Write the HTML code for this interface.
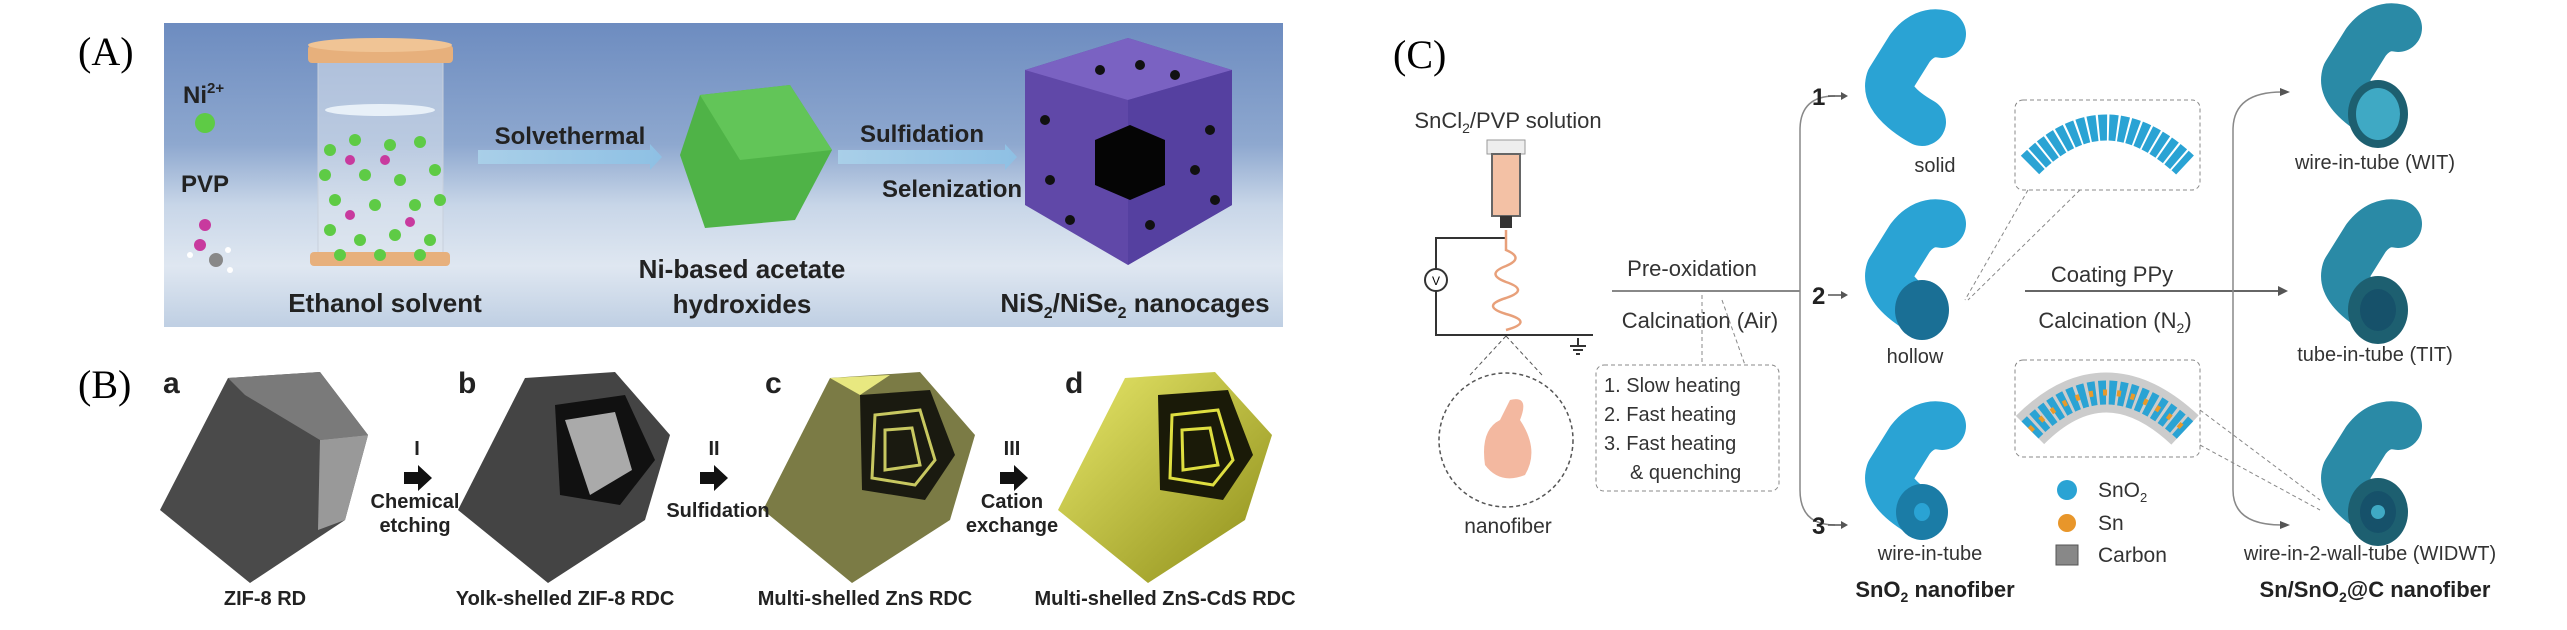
<!DOCTYPE html>
<html><head><meta charset="utf-8"><style>
html,body{margin:0;padding:0;background:#fff;}
svg{display:block;}
.lab{font-family:"Liberation Serif",serif;font-size:40px;}
.a{font-family:"Liberation Sans",sans-serif;font-weight:bold;fill:#222;}
.c{font-family:"Liberation Sans",sans-serif;fill:#333;}
</style></head><body>
<svg width="2567" height="630" viewBox="0 0 2567 630" xmlns="http://www.w3.org/2000/svg">
<defs>
<linearGradient id="sky" x1="0" y1="0" x2="0" y2="1">
<stop offset="0" stop-color="#6d8cc0"/><stop offset="0.4" stop-color="#8ea8cf"/><stop offset="0.6" stop-color="#c8d6e8"/><stop offset="0.8" stop-color="#dfe7f1"/><stop offset="1" stop-color="#bfcfe3"/></linearGradient>
<linearGradient id="arr" x1="0" y1="0" x2="1" y2="0"><stop offset="0" stop-color="#a9cfe8"/><stop offset="1" stop-color="#8ec0e4"/></linearGradient>
<linearGradient id="ylw" x1="0" y1="0" x2="1" y2="1"><stop offset="0" stop-color="#e8e86a"/><stop offset="1" stop-color="#8c8c18"/></linearGradient>
<g id="fib"><path d="M80,16 Q62,12 48,30 L28,62 Q22,82 60,104" fill="none" stroke="#2aa3d4" stroke-width="48" stroke-linecap="round" stroke-linejoin="round"/></g>
<g id="fibR"><path d="M80,16 Q62,12 48,30 L28,62 Q22,82 60,104" fill="none" stroke="#2a8aa6" stroke-width="48" stroke-linecap="round" stroke-linejoin="round"/></g>
</defs>

<!-- Panel A -->
<text class="lab" x="78" y="65">(A)</text>
<rect x="164" y="23" width="1119" height="304" fill="url(#sky)"/>
<text class="a" x="183" y="103" font-size="24">Ni<tspan font-size="15" dy="-10">2+</tspan></text>
<circle cx="205" cy="123" r="10" fill="#5ecb45"/>
<text class="a" x="181" y="192" font-size="24">PVP</text>
<circle cx="205" cy="225" r="6" fill="#c83a9e"/><circle cx="200" cy="245" r="6" fill="#c83a9e"/><circle cx="216" cy="260" r="7" fill="#888"/>
<circle cx="228" cy="250" r="3" fill="#fff"/><circle cx="230" cy="270" r="3" fill="#fff"/><circle cx="190" cy="255" r="3" fill="#fff"/>
<rect x="318" y="60" width="125" height="200" fill="#dfe6ef" fill-opacity="0.55" stroke="#c8d0dc"/>
<ellipse cx="380" cy="110" rx="55" ry="6" fill="#e8f0f8"/>
<rect x="308" y="45" width="145" height="18" rx="4" fill="#e7b07c"/>
<ellipse cx="380" cy="45" rx="72" ry="7" fill="#f0c495"/>
<rect x="310" y="252" width="140" height="14" rx="4" fill="#e7b07c"/>
<g fill="#5ecb45">
<circle cx="330" cy="150" r="6"/><circle cx="355" cy="140" r="6"/><circle cx="390" cy="145" r="6"/><circle cx="420" cy="142" r="6"/>
<circle cx="325" cy="175" r="6"/><circle cx="365" cy="175" r="6"/><circle cx="400" cy="180" r="6"/><circle cx="435" cy="170" r="6"/>
<circle cx="335" cy="200" r="6"/><circle cx="375" cy="205" r="6"/><circle cx="415" cy="205" r="6"/><circle cx="440" cy="200" r="6"/>
<circle cx="330" cy="230" r="6"/><circle cx="360" cy="240" r="6"/><circle cx="395" cy="235" r="6"/><circle cx="430" cy="240" r="6"/>
<circle cx="340" cy="255" r="6"/><circle cx="380" cy="255" r="6"/><circle cx="420" cy="255" r="6"/></g>
<g fill="#c83a9e"><circle cx="350" cy="160" r="5"/><circle cx="385" cy="160" r="5"/><circle cx="350" cy="215" r="5"/><circle cx="410" cy="222" r="5"/></g>
<text class="a" x="385" y="312" font-size="26" text-anchor="middle">Ethanol solvent</text>
<polygon points="478,150 650,150 650,144 662,157 650,170 650,164 478,164" fill="url(#arr)"/>
<text class="a" x="570" y="144" font-size="24" text-anchor="middle">Solvethermal</text>
<polygon points="700,95 790,85 832,150 795,220 705,228 680,155" fill="#4fb347"/>
<polygon points="700,95 790,85 832,150 740,160" fill="#62c558"/>
<text class="a" x="742" y="278" font-size="26" text-anchor="middle">Ni-based acetate</text>
<text class="a" x="742" y="313" font-size="26" text-anchor="middle">hydroxides</text>
<polygon points="838,150 1005,150 1005,144 1017,157 1005,170 1005,164 838,164" fill="url(#arr)"/>
<text class="a" x="922" y="142" font-size="24" text-anchor="middle">Sulfidation</text>
<text class="a" x="952" y="197" font-size="24" text-anchor="middle">Selenization</text>
<polygon points="1128,38 1232,70 1232,205 1128,265 1025,205 1025,70" fill="#6048a8"/>
<polygon points="1128,38 1232,70 1128,100 1025,70" fill="#7a62c2"/>
<polygon points="1128,100 1232,70 1232,205 1128,265" fill="#5540a0"/>
<polygon points="1130,125 1165,140 1165,185 1130,200 1095,185 1095,140" fill="#050505"/>
<g fill="#111"><circle cx="1100" cy="70" r="5"/><circle cx="1140" cy="65" r="5"/><circle cx="1175" cy="75" r="5"/><circle cx="1045" cy="120" r="5"/><circle cx="1210" cy="130" r="5"/><circle cx="1195" cy="170" r="5"/><circle cx="1050" cy="180" r="5"/><circle cx="1215" cy="200" r="5"/><circle cx="1150" cy="225" r="5"/><circle cx="1070" cy="220" r="5"/></g>
<text class="a" x="1135" y="312" font-size="26" text-anchor="middle">NiS<tspan font-size="16" dy="6">2</tspan><tspan dy="-6">/NiSe</tspan><tspan font-size="16" dy="6">2</tspan><tspan dy="-6"> nanocages</tspan></text>

<!-- Panel B -->
<text class="lab" x="78" y="398">(B)</text>
<g class="a" font-size="30"><text x="163" y="393">a</text><text x="458" y="393">b</text><text x="765" y="393">c</text><text x="1065" y="393">d</text></g>
<polygon points="228,378 320,372 368,435 345,520 250,583 160,510" fill="#4a4a4a"/>
<polygon points="228,378 320,372 368,435 320,440 245,395" fill="#7a7a7a"/>
<polygon points="320,440 368,435 345,520 318,530" fill="#999"/>
<polygon points="525,378 615,372 670,435 645,520 548,583 458,510" fill="#444"/>
<polygon points="555,405 625,395 655,460 620,505 560,495" fill="#111"/>
<polygon points="565,420 615,412 632,470 590,495" fill="#aaa"/>
<polygon points="830,378 920,372 975,435 950,520 852,583 763,510" fill="#7b7b45"/>
<polygon points="830,378 890,375 860,395" fill="#e8e880"/>
<polygon points="860,395 930,390 955,455 925,500 862,490" fill="#1a1a10"/>
<polygon points="875,415 920,410 935,460 915,485 872,478" fill="none" stroke="#c8c860" stroke-width="3"/>
<polygon points="885,430 912,428 920,465 885,470" fill="none" stroke="#c8c860" stroke-width="3"/>
<polygon points="1125,378 1215,372 1272,435 1245,520 1148,583 1058,510" fill="url(#ylw)"/>
<polygon points="1158,395 1228,390 1253,455 1223,500 1160,490" fill="#1a1a08"/>
<polygon points="1172,415 1218,410 1233,460 1213,485 1170,478" fill="none" stroke="#dede40" stroke-width="3"/>
<polygon points="1182,430 1210,428 1218,465 1183,470" fill="none" stroke="#dede40" stroke-width="3"/>
<g fill="#111"><polygon points="404,472 418,472 418,465 432,478 418,491 418,484 404,484"/>
<polygon points="700,472 714,472 714,465 728,478 714,491 714,484 700,484"/>
<polygon points="1000,472 1014,472 1014,465 1028,478 1014,491 1014,484 1000,484"/></g>
<g class="a" font-size="20" text-anchor="middle">
<text x="417" y="455">I</text><text x="415" y="508">Chemical</text><text x="415" y="532">etching</text>
<text x="714" y="455">II</text><text x="718" y="517">Sulfidation</text>
<text x="1012" y="455">III</text><text x="1012" y="508">Cation</text><text x="1012" y="532">exchange</text>
<text x="265" y="605">ZIF-8 RD</text><text x="565" y="605">Yolk-shelled ZIF-8 RDC</text>
<text x="865" y="605">Multi-shelled ZnS RDC</text><text x="1165" y="605">Multi-shelled ZnS-CdS RDC</text></g>

<!-- Panel C -->
<text class="lab" x="1393" y="68">(C)</text>
<text class="c" x="1508" y="128" font-size="22" text-anchor="middle">SnCl<tspan font-size="14" dy="5">2</tspan><tspan dy="-5">/PVP solution</tspan></text>
<rect x="1487" y="140" width="38" height="14" fill="#eee" stroke="#999"/>
<rect x="1492" y="154" width="28" height="62" fill="#f3c1a5" stroke="#666" stroke-width="2"/>
<rect x="1500" y="216" width="12" height="12" fill="#333"/>
<g fill="none" stroke="#333" stroke-width="2">
<polyline points="1506,238 1436,238 1436,335 1593,335"/>
<line x1="1578" y1="338" x2="1578" y2="346"/><line x1="1570" y1="346" x2="1586" y2="346"/><line x1="1573" y1="350" x2="1583" y2="350"/><line x1="1576" y1="354" x2="1580" y2="354"/>
</g>
<circle cx="1436" cy="280" r="11" fill="#fff" stroke="#333" stroke-width="2"/>
<text x="1436" y="285" font-size="12" text-anchor="middle" font-family="Liberation Sans">V</text>
<path d="M1506,230 L1506,250 Q1525,258 1506,266 Q1485,274 1506,282 Q1530,290 1506,298 Q1480,306 1506,314 Q1535,322 1506,330" fill="none" stroke="#e8a07a" stroke-width="2.5"/>
<circle cx="1506" cy="440" r="67" fill="none" stroke="#555" stroke-width="1.5" stroke-dasharray="4,3"/>
<line x1="1470" y1="375" x2="1506" y2="336" stroke="#555" stroke-dasharray="4,3"/><line x1="1542" y1="375" x2="1506" y2="336" stroke="#555" stroke-dasharray="4,3"/>
<path d="M1510,400 Q1530,395 1520,420 Q1540,450 1525,475 Q1500,485 1485,465 Q1480,430 1500,420 Z" fill="#f3b8a0"/>
<text class="c" x="1508" y="533" font-size="21" text-anchor="middle">nanofiber</text>
<line x1="1612" y1="291" x2="1800" y2="291" stroke="#888" stroke-width="2"/>
<text class="c" x="1692" y="276" font-size="22" text-anchor="middle">Pre-oxidation</text>
<text class="c" x="1700" y="328" font-size="22" text-anchor="middle">Calcination (Air)</text>
<rect x="1596" y="365" width="183" height="126" rx="8" fill="none" stroke="#888" stroke-dasharray="4,3"/>
<line x1="1702" y1="295" x2="1702" y2="365" stroke="#888" stroke-dasharray="4,3"/><line x1="1722" y1="300" x2="1745" y2="365" stroke="#888" stroke-dasharray="4,3"/>
<g class="c" font-size="20"><text x="1604" y="392">1. Slow heating</text><text x="1604" y="421">2. Fast heating</text><text x="1604" y="450">3. Fast heating</text><text x="1630" y="479">&amp; quenching</text></g>
<path d="M1835,96 Q1800,96 1800,130 L1800,490 Q1800,525 1835,525" fill="none" stroke="#888" stroke-width="1.5"/>
<g class="a" font-size="24"><text x="1812" y="105">1</text><text x="1812" y="304">2</text><text x="1812" y="534">3</text></g>
<g stroke="#555" stroke-width="1.5"><line x1="1828" y1="96" x2="1845" y2="96"/><line x1="1828" y1="295" x2="1845" y2="295"/><line x1="1828" y1="525" x2="1845" y2="525"/></g>
<g fill="#555"><polygon points="1848,96 1841,92 1841,100"/><polygon points="1848,295 1841,291 1841,299"/><polygon points="1848,525 1841,521 1841,529"/></g>
<use href="#fib" x="1862" y="18"/>
<use href="#fib" x="1862" y="208"/><ellipse cx="1922" cy="310" rx="27" ry="30" fill="#1a6f95"/>
<use href="#fib" x="1862" y="410"/><ellipse cx="1922" cy="512" rx="26" ry="28" fill="#1b7ca6"/><ellipse cx="1922" cy="512" rx="8" ry="9" fill="#2aa3d4"/>
<g class="c" font-size="20" text-anchor="middle"><text x="1935" y="172">solid</text><text x="1915" y="363">hollow</text><text x="1930" y="560">wire-in-tube</text></g>
<text class="a" x="1935" y="597" font-size="22" text-anchor="middle">SnO<tspan font-size="14" dy="5">2</tspan><tspan dy="-5"> nanofiber</tspan></text>
<rect x="2015" y="100" width="185" height="90" rx="8" fill="none" stroke="#888" stroke-dasharray="4,3"/>
<path d="M2030,165 Q2105,90 2185,165" fill="none" stroke="#2aa3d4" stroke-width="26" stroke-dasharray="8,2"/>
<line x1="2028" y1="190" x2="1965" y2="300" stroke="#888" stroke-dasharray="4,3"/><line x1="2080" y1="190" x2="1968" y2="300" stroke="#888" stroke-dasharray="4,3"/>
<rect x="2015" y="360" width="185" height="97" rx="8" fill="none" stroke="#888" stroke-dasharray="4,3"/>
<path d="M2030,430 Q2105,355 2185,430" fill="none" stroke="#ccc" stroke-width="40"/>
<path d="M2030,430 Q2105,355 2185,430" fill="none" stroke="#2aa3d4" stroke-width="24" stroke-dasharray="7,3"/>
<path d="M2030,430 Q2105,355 2185,430" fill="none" stroke="#e89a2a" stroke-width="6" stroke-dasharray="4,10"/>
<line x1="2200" y1="410" x2="2320" y2="500" stroke="#888" stroke-dasharray="4,3"/><line x1="2200" y1="445" x2="2320" y2="510" stroke="#888" stroke-dasharray="4,3"/>
<circle cx="2067" cy="490" r="10" fill="#2aa3d4"/><circle cx="2067" cy="523" r="9" fill="#e8962a"/><rect x="2056" y="545" width="22" height="20" fill="#888" stroke="#555"/>
<g class="c" font-size="21"><text x="2098" y="497">SnO<tspan font-size="13" dy="5">2</tspan></text><text x="2098" y="530">Sn</text><text x="2098" y="562">Carbon</text></g>
<line x1="2025" y1="291" x2="2280" y2="291" stroke="#666" stroke-width="2"/><polygon points="2288,291 2278,286 2278,296" fill="#555"/>
<text class="c" x="2112" y="282" font-size="22" text-anchor="middle">Coating PPy</text>
<text class="c" x="2115" y="328" font-size="22" text-anchor="middle">Calcination (N<tspan font-size="14" dy="5">2</tspan><tspan dy="-5">)</tspan></text>
<path d="M2282,92 Q2233,92 2233,130 L2233,490 Q2233,525 2282,525" fill="none" stroke="#888" stroke-width="1.5"/>
<polygon points="2290,92 2280,88 2280,96" fill="#555"/><polygon points="2290,525 2280,521 2280,529" fill="#555"/>
<use href="#fibR" x="2318" y="12"/><ellipse cx="2378" cy="114" rx="30" ry="34" fill="#1d5f70"/><ellipse cx="2378" cy="114" rx="22" ry="26" fill="#3fa9c4"/>
<use href="#fibR" x="2318" y="208"/><ellipse cx="2378" cy="310" rx="30" ry="34" fill="#1d5f70"/><ellipse cx="2378" cy="310" rx="18" ry="21" fill="#16516a"/>
<use href="#fibR" x="2318" y="410"/><ellipse cx="2378" cy="512" rx="30" ry="34" fill="#1d5f70"/><ellipse cx="2378" cy="512" rx="18" ry="21" fill="#16516a"/><circle cx="2378" cy="512" r="7" fill="#3fa9c4"/>
<g class="c" font-size="20" text-anchor="middle"><text x="2375" y="169">wire-in-tube (WIT)</text><text x="2375" y="361">tube-in-tube (TIT)</text><text x="2370" y="560">wire-in-2-wall-tube (WIDWT)</text></g>
<text class="a" x="2375" y="597" font-size="22" text-anchor="middle">Sn/SnO<tspan font-size="14" dy="5">2</tspan><tspan dy="-5">@C nanofiber</tspan></text>
</svg>
</body></html>
